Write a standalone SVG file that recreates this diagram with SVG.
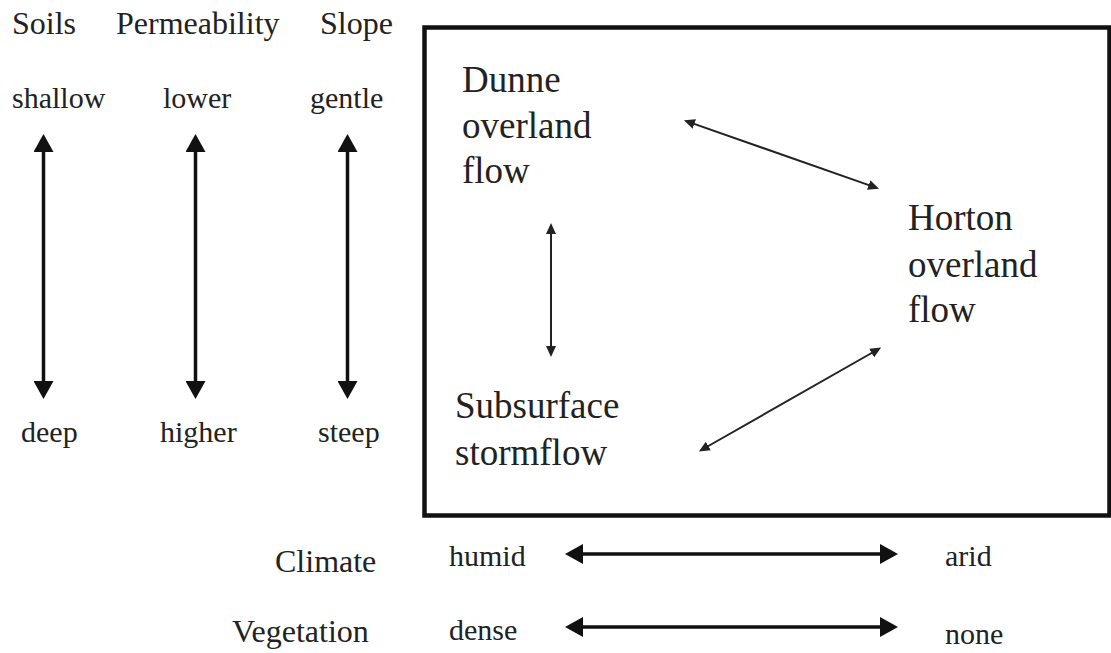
<svg xmlns="http://www.w3.org/2000/svg" width="1111" height="653" viewBox="0 0 1111 653">
<style>
text{font-family:"Liberation Serif","Times New Roman",serif;fill:#222;}
.hdr{font-size:32px;}
.val{font-size:30px;}
.node{font-size:37px;}
.thick{stroke:#111;stroke-width:3.5;fill:none;}
.thin{stroke:#222;stroke-width:2;fill:none;}
</style>
<defs>
<marker id="bigHead" markerUnits="userSpaceOnUse" viewBox="0 -10 18 20" refX="1" refY="0" markerWidth="18" markerHeight="20" orient="auto-start-reverse">
<path d="M0,-10 L18,0 L0,10 z" fill="#111"/>
</marker>
<marker id="smallHead" markerUnits="userSpaceOnUse" viewBox="0 -5 11 10" refX="1" refY="0" markerWidth="11" markerHeight="10" orient="auto-start-reverse">
<path d="M0,-5 L11,0 L0,5 z" fill="#222"/>
</marker>
</defs>
<rect width="1111" height="653" fill="#fff"/>

<g id="frame">
<rect x="424.5" y="27.5" width="685" height="488" fill="none" stroke="#111" stroke-width="4.5"/>
</g>

<g id="soils">
<text class="hdr" x="12" y="34">Soils</text>
<text class="val" x="12" y="108">shallow</text>
<text class="val" x="21" y="442">deep</text>
</g>
<g id="permeability">
<text class="hdr" x="116" y="34">Permeability</text>
<text class="val" x="163" y="108">lower</text>
<text class="val" x="160" y="442">higher</text>
</g>
<g id="slope">
<text class="hdr" x="320" y="34">Slope</text>
<text class="val" x="310" y="108">gentle</text>
<text class="val" x="318" y="442">steep</text>
</g>

<g id="dunne">
<text class="node" x="462" y="92">Dunne</text>
<text class="node" x="462" y="138">overland</text>
<text class="node" x="462" y="183">flow</text>
</g>
<g id="horton">
<text class="node" x="908" y="230">Horton</text>
<text class="node" x="908" y="277">overland</text>
<text class="node" x="908" y="322">flow</text>
</g>
<g id="subsurface">
<text class="node" x="455" y="418">Subsurface</text>
<text class="node" x="455" y="465">stormflow</text>
</g>

<g id="climate">
<text class="hdr" x="275" y="572">Climate</text>
<text class="val" x="449" y="566">humid</text>
<text class="val" x="945" y="566">arid</text>
</g>
<g id="vegetation">
<text class="hdr" x="232" y="642">Vegetation</text>
<text class="val" x="449" y="640">dense</text>
<text class="val" x="945" y="644">none</text>
</g>

<g id="connectors">
<line class="thick" x1="43.5" y1="151" x2="43.5" y2="382" marker-start="url(#bigHead)" marker-end="url(#bigHead)"/>
<line class="thick" x1="195.5" y1="151" x2="195.5" y2="382" marker-start="url(#bigHead)" marker-end="url(#bigHead)"/>
<line class="thick" x1="347.5" y1="151" x2="347.5" y2="382" marker-start="url(#bigHead)" marker-end="url(#bigHead)"/>
<line class="thick" x1="582" y1="554" x2="881" y2="554" marker-start="url(#bigHead)" marker-end="url(#bigHead)"/>
<line class="thick" x1="582" y1="627" x2="881" y2="627" marker-start="url(#bigHead)" marker-end="url(#bigHead)"/>
<line class="thin" x1="693.4" y1="123.6" x2="869.6" y2="185.4" marker-start="url(#smallHead)" marker-end="url(#smallHead)"/>
<line class="thin" x1="551" y1="233" x2="551" y2="347" marker-start="url(#smallHead)" marker-end="url(#smallHead)"/>
<line class="thin" x1="707.5" y1="446.5" x2="872.5" y2="352.5" marker-start="url(#smallHead)" marker-end="url(#smallHead)"/>
</g>
</svg>
